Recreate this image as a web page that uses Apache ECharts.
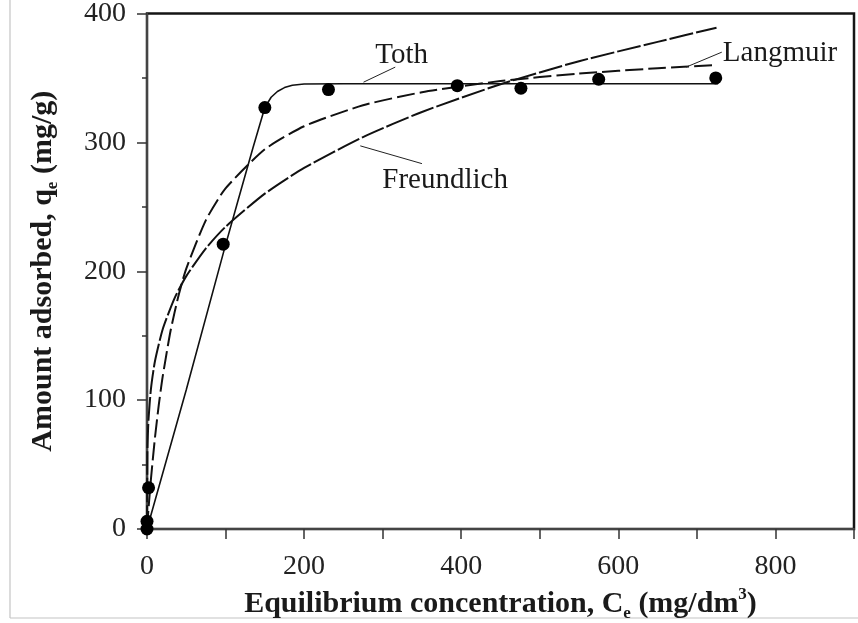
<!DOCTYPE html>
<html>
<head>
<meta charset="utf-8">
<script src="https://cdn.jsdelivr.net/npm/echarts@6/dist/echarts.min.js"></script>
<style>
  html, body { margin: 0; padding: 0; background: #fff; }
  #chart { width: 858px; height: 623px; }
</style>
</head>
<body>
<div id="chart"></div>
<script>
// Measured equilibrium data: [Ce (mg/dm3), qe (mg/g)]
const measured = [
  [0, 0], [0, 6], [2, 32], [97, 221], [150, 327], [231, 341],
  [395, 344], [476, 342], [575, 349], [724, 350]
];

// Fitted isotherm curves
const tothCurve = [
  [0, 0], [50, 108], [98, 216], [115, 253], [135, 296], [150, 327],
  [158, 335], [166, 339.5], [175, 342.5], [185, 344.3], [200, 345.3],
  [250, 345.5], [400, 345.5], [600, 345.5], [727, 345.5]
];
const langmuirCurve = [
  [0, 0], [2, 16.4], [5, 38.6], [10, 70.1], [15, 96.3], [20, 118.4],
  [30, 153.8], [40, 180.8], [50, 202.1], [75, 239.7], [100, 264.3],
  [150, 294.6], [200, 312.5], [275, 328.8], [350, 338.9], [450, 347.6],
  [550, 353.4], [650, 357.5], [720, 359.8]
];
const freundlichCurve = [
  [0, 0], [0.5, 60], [1, 71.8], [2, 85.8], [5, 108.6], [10, 129.8],
  [20, 155], [35, 179], [50, 196.2], [75, 217.8], [100, 234.5],
  [150, 260.2], [200, 280.2], [275, 304.1], [350, 323.6], [450, 345.1],
  [550, 363], [650, 378], [725, 389]
];

// Curve labels with leader lines: [name, text anchor, leader start, leader end]
const curveLabels = [
  ['Toth', [290.6, 367.4], [275.6, 346.7], [316, 358.4]],
  ['Freundlich', [299.5, 270.5], [271.5, 297.3], [350, 283.5]],
  ['Langmuir', [733, 369.4], [686.3, 358.4], [731.7, 370]]
];

// Axis ranges and tick steps
const xRange = [0, 900];
const yRange = [0, 400];
const xStep = 100;
const xLabelStep = 200;
const yStep = 100;

const SERIF = '"Liberation Serif", "Times New Roman", serif';
const ink = '#1a1a1a';

const chart = echarts.init(document.getElementById('chart'), null, { renderer: 'canvas' });

const leaderSeries = curveLabels.map(([name, , from, to]) => ({
  name: name + ' leader',
  type: 'line',
  data: [from, to],
  symbol: 'none',
  silent: true,
  lineStyle: { color: '#222', width: 1 },
  z: 3
}));

const nameRich = {
  b: { fontFamily: SERIF, fontWeight: 'bold', fontSize: 30, color: ink, lineHeight: 36 },
  sub: { fontFamily: SERIF, fontWeight: 'bold', fontSize: 17, color: ink, verticalAlign: 'bottom', lineHeight: 36 },
  sup: { fontFamily: SERIF, fontWeight: 'bold', fontSize: 17, color: ink, verticalAlign: 'top', lineHeight: 36 }
};

chart.setOption({
  animation: false,
  backgroundColor: '#fff',
  grid: {
    left: 147, right: 4, top: 13.5, bottom: 94,
    outerBoundsMode: 'none',
    containLabel: false,
    show: true, borderColor: '#151515', borderWidth: 2.5,
    backgroundColor: 'transparent'
  },
  xAxis: {
    type: 'value',
    min: xRange[0], max: xRange[1], interval: xStep,
    splitLine: { show: false },
    axisLine: { show: true, lineStyle: { color: '#444', width: 2 } },
    axisTick: { show: true, inside: false, length: 10, lineStyle: { color: '#333', width: 1.5 } },
    axisLabel: {
      margin: 24, fontFamily: SERIF, fontSize: 28, color: '#222',
      formatter: v => (v % xLabelStep === 0 && v < xRange[1]) ? String(v) : ''
    },
    name: '{b|Equilibrium concentration, C}{sub|e}{b| (mg/dm}{sup|3}{b|)}',
    nameLocation: 'middle',
    nameGap: 57,
    nameTextStyle: { rich: nameRich }
  },
  yAxis: {
    type: 'value',
    min: yRange[0], max: yRange[1], interval: yStep,
    splitLine: { show: false },
    axisLine: { show: true, lineStyle: { color: '#444', width: 2 } },
    axisTick: { show: true, inside: false, length: 10, lineStyle: { color: '#333', width: 1.5 } },
    minorTick: { show: true, splitNumber: 2, length: 5, lineStyle: { color: '#333', width: 1.5 } },
    axisLabel: { margin: 21, fontFamily: SERIF, fontSize: 28, color: '#222' },
    name: '{b|Amount adsorbed, q}{sub|e}{b| (mg/g)}',
    nameLocation: 'middle',
    nameGap: 86,
    nameRotate: 90,
    nameTextStyle: { rich: nameRich }
  },
  series: [
    {
      name: 'Toth', type: 'line', data: tothCurve, symbol: 'none', smooth: false,
      lineStyle: { color: '#111', width: 1.6 }, z: 3
    },
    {
      name: 'Langmuir', type: 'line', data: langmuirCurve, symbol: 'none', smooth: 0.2,
      lineStyle: { color: '#111', width: 2, type: [18, 5] }, z: 3
    },
    {
      name: 'Freundlich', type: 'line', data: freundlichCurve, symbol: 'none', smooth: 0.2,
      lineStyle: { color: '#111', width: 2, type: [24, 3] }, z: 3
    },
    {
      name: 'Experimental', type: 'scatter', data: measured, symbol: 'circle', symbolSize: 13,
      itemStyle: { color: '#000', opacity: 1 }, z: 5
    },
    ...leaderSeries
  ]
});

// Curve names, anchored through the axis scales
const texts = curveLabels.map(([name, at]) => {
  const p = chart.convertToPixel({ gridIndex: 0 }, at);
  return {
    type: 'text', x: p[0], y: p[1], z: 10,
    style: { text: name, fontFamily: SERIF, fontSize: 29, fill: '#1a1a1a', align: 'left', verticalAlign: 'middle' }
  };
});

// Thin outer frame rules
const frame = [
  { type: 'line', shape: { x1: 10, y1: 0, x2: 10, y2: 618 }, style: { stroke: '#c4c4c4', lineWidth: 1.2 }, silent: true },
  { type: 'line', shape: { x1: 10, y1: 618, x2: 858, y2: 618 }, style: { stroke: '#c4c4c4', lineWidth: 1.2 }, silent: true }
];

chart.setOption({ graphic: texts.concat(frame) });
</script>
</body>
</html>
